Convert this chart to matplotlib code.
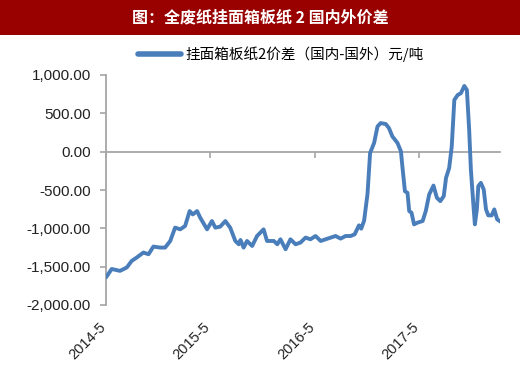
import numpy as np
import pandas as pd
import matplotlib.pyplot as plt
import matplotlib.dates as mdates
from matplotlib.ticker import FuncFormatter

plt.rcParams['font.family'] = ['Liberation Sans', 'Noto Sans CJK SC', 'DejaVu Sans']

dates = [
    '2014-05-01', '2014-05-21', '2014-06-19', '2014-07-13', '2014-07-30', '2014-08-17',
    '2014-09-09', '2014-09-27', '2014-10-14', '2014-11-07', '2014-11-24', '2014-12-12',
    '2014-12-29', '2015-01-16', '2015-02-02', '2015-02-18', '2015-03-01', '2015-03-16',
    '2015-03-27', '2015-04-20', '2015-05-07', '2015-05-19', '2015-06-05', '2015-06-23',
    '2015-07-10', '2015-07-28', '2015-08-09', '2015-08-15', '2015-08-26', '2015-09-07',
    '2015-09-25', '2015-10-12', '2015-11-04', '2015-11-16', '2015-12-10', '2015-12-22',
    '2016-01-02', '2016-01-20', '2016-02-06', '2016-02-24', '2016-03-12', '2016-03-30',
    '2016-04-16', '2016-05-04', '2016-05-22', '2016-06-08', '2016-06-26', '2016-07-13',
    '2016-07-31', '2016-08-17', '2016-09-04', '2016-09-18', '2016-10-03', '2016-10-11',
    '2016-10-21', '2016-11-02', '2016-11-11', '2016-11-25', '2016-12-07', '2016-12-18',
    '2017-01-05', '2017-01-16', '2017-01-28', '2017-02-15', '2017-02-27', '2017-03-04',
    '2017-03-13', '2017-03-22', '2017-03-28', '2017-04-05', '2017-04-14', '2017-04-26',
    '2017-05-14', '2017-05-25', '2017-06-06', '2017-06-21', '2017-07-03', '2017-07-15',
    '2017-07-27', '2017-08-04', '2017-08-15', '2017-08-24', '2017-09-02', '2017-09-14',
    '2017-09-25', '2017-10-07', '2017-10-16', '2017-10-24', '2017-10-30', '2017-11-09',
    '2017-11-13', '2017-11-20', '2017-11-25', '2017-12-04', '2017-12-14', '2017-12-22',
    '2017-12-30', '2018-01-11', '2018-01-20', '2018-01-30', '2018-02-13',
]
spread = [
    -1640, -1530, -1555, -1510, -1425, -1380,
    -1316, -1338, -1238, -1251, -1251, -1165,
    -991, -1013, -970, -775, -818, -775,
    -861, -1013, -905, -991, -978, -905,
    -991, -1165, -1208, -1152, -1251, -1165,
    -1230, -1100, -1013, -1165, -1165, -1208,
    -1143, -1273, -1143, -1208, -1186, -1121,
    -1143, -1100, -1165, -1143, -1121, -1100,
    -1134, -1100, -1100, -1078, -961, -1004,
    -900, -550, -17, 113, 329, 373,
    360, 308, 199, 113, 4, -191,
    -516, -537, -775, -796, -948, -926,
    -905, -775, -558, -442, -602, -645,
    -580, -342, -212, 69, 675, 740,
    762, 857, 805, 286, -234, -753,
    -948, -753, -450, -407, -494, -753,
    -831, -831, -753, -883, -918,
]
tick_dates = ['2014-05-01', '2015-05-01', '2016-05-01', '2017-05-01']
tick_labels = ['2014-5', '2015-5', '2016-5', '2017-5']

title = '图：全废纸挂面箱板纸 2 国内外价差'
series_name = '挂面箱板纸2价差（国内-国外）元/吨'

blue = '#4A7EBB'
grey = '#A6A6A6'

fig = plt.figure(figsize=(5.2, 3.7), dpi=100)

# red title band
band = fig.add_axes([0, 1 - 35 / 370, 1, 35 / 370])
band.set_facecolor('#990000')
band.set_xticks([])
band.set_yticks([])
for s in band.spines.values():
    s.set_visible(False)
band.text(0.5, 0.5, title, color='white', fontsize=11.5, fontweight='bold',
          ha='center', va='center', family=['Noto Sans CJK SC', 'DejaVu Sans'])

ax = fig.add_axes([106 / 520, 1 - 305 / 370, 394 / 520, 230 / 370])
x = pd.to_datetime(dates)
ax.plot(x, spread, color=blue, lw=2.8, solid_capstyle='round', zorder=3,
        label=series_name)

ax.set_ylim(-2000, 1000)
ax.set_yticks(np.arange(-2000, 1001, 500))
ax.yaxis.set_major_formatter(FuncFormatter(lambda v, p: f'{v:,.2f}'))
ax.set_xlim(pd.Timestamp('2014-05-01'), pd.Timestamp('2018-02-09'))

for s in ['top', 'right']:
    ax.spines[s].set_visible(False)
ax.spines['left'].set_color(grey)
ax.spines['left'].set_linewidth(1.3)
ax.spines['bottom'].set_position(('data', 0))
ax.spines['bottom'].set_color(grey)
ax.spines['bottom'].set_linewidth(1.3)
ax.tick_params(axis='y', colors=grey, labelcolor='#222222', labelsize=11,
               length=4, width=1.2, pad=7)
ticks = pd.to_datetime(tick_dates)
ax.set_xticks(ticks)
ax.set_xticklabels([])
ax.tick_params(axis='x', colors=grey, length=4, width=1.2, direction='out')

for t, lab in zip(ticks, tick_labels):
    ax.text(t + pd.Timedelta(days=10), -0.065, lab, transform=ax.get_xaxis_transform(),
            rotation=45, ha='right', va='top', fontsize=10.5, color='#222222')

leg = fig.legend(loc='center', bbox_to_anchor=(0.54, 1 - 54 / 370), frameon=False,
                 handlelength=3.0, handletextpad=0.3,
                 prop={'family': ['Noto Sans CJK SC', 'DejaVu Sans'], 'size': 10.5})
for h in leg.get_lines():
    h.set_linewidth(4)

fig.savefig('out.png', dpi=100)
